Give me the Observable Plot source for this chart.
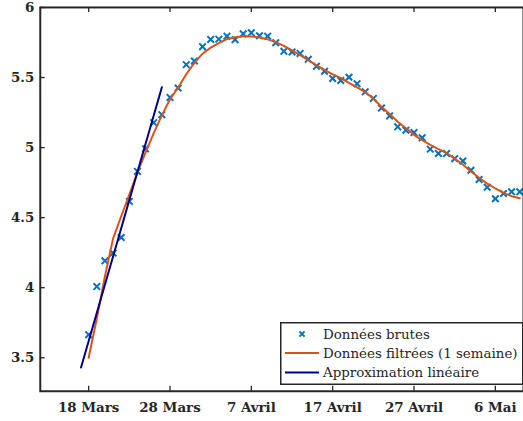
<!DOCTYPE html>
<html><head><meta charset="utf-8">
<script src="https://cdn.jsdelivr.net/npm/d3@7"></script>
<script src="https://cdn.jsdelivr.net/npm/@observablehq/plot@0.6"></script>
<style>
body{margin:0;background:#fff;}
#wrap{position:relative;width:523px;height:421px;overflow:hidden;background:#fff;}
#legend{position:absolute;left:0;top:0;font-family:"DejaVu Serif",serif;}
#legend text{font-family:"DejaVu Serif",serif;font-size:13.4px;}
#wrap svg text{font-family:"DejaVu Serif",serif;}
</style>
</head><body>
<div id="wrap"></div>
<script>
// Day index: 0 = 18 Mars
const rawDays = d3.range(0, 54);
const rawValues = [3.665,4.008,4.192,4.247,4.358,4.616,4.830,4.991,5.178,5.235,
  5.358,5.425,5.592,5.618,5.720,5.772,5.774,5.795,5.770,5.812,
  5.819,5.798,5.795,5.748,5.687,5.682,5.672,5.630,5.580,5.545,
  5.493,5.479,5.502,5.456,5.398,5.351,5.282,5.226,5.148,5.124,
  5.107,5.070,4.989,4.958,4.957,4.921,4.904,4.838,4.772,4.717,
  4.635,4.672,4.684,4.684];
const filteredValues = [3.50,3.78,4.08,4.35,4.51,4.665,4.823,4.965,5.103,5.23,
  5.345,5.429,5.523,5.604,5.670,5.713,5.745,5.774,5.788,5.795,
  5.793,5.785,5.772,5.753,5.726,5.694,5.660,5.624,5.587,5.554,
  5.523,5.495,5.462,5.430,5.396,5.348,5.291,5.240,5.185,5.138,
  5.091,5.053,5.020,4.989,4.961,4.920,4.880,4.830,4.784,4.743,
  4.708,4.677,4.653,4.639];
const linearDays = [-0.94, 9.0];
const linearValues = [3.43, 5.43];
const tickDays = [0, 10, 20, 30, 40, 50];
const tickLabels = ["18 Mars", "28 Mars", "7 Avril", "17 Avril", "27 Avril", "6 Mai"];
const yTicks = [3.5, 4, 4.5, 5, 5.5, 6];
const legendLabels = ["Données brutes", "Données filtrées (1 semaine)", "Approximation linéaire"];

const raw = rawDays.map((d, i) => ({day: d, v: rawValues[i]}));
const filtered = rawDays.map((d, i) => ({day: d, v: filteredValues[i]}));
const linear = linearDays.map((d, i) => ({day: d, v: linearValues[i]}));

const W = 526, H = 421, mL = 40, mR = 0, mT = 7, mB = 28;
const innerW = W - mL - mR, innerH = H - mT - mB;
const ink = "#262626";
const blue = "#0072BD", orange = "#D95319", navy = "#00008B";

const chart = Plot.plot({
  width: W, height: H,
  marginLeft: mL, marginRight: mR, marginTop: mT, marginBottom: mB,
  style: {fontFamily: "DejaVu Serif, serif", fontSize: "13.5px", fontWeight: "bold", color: ink, background: "transparent", overflow: "visible"},
  x: {domain: [-5.95, 53.46], label: null},
  y: {domain: [3.261, 6], label: null},
  marks: [
    Plot.dot(raw, {x: "day", y: "v", symbol: "times", r: 3.1, stroke: blue, strokeWidth: 2}),
    Plot.line(filtered, {x: "day", y: "v", stroke: orange, strokeWidth: 2}),
    Plot.line(linear, {x: "day", y: "v", stroke: navy, strokeWidth: 2}),
    Plot.ruleX(tickDays, {x: d => d, insetTop: innerH - 5, stroke: ink, strokeWidth: 1.3}),
    Plot.ruleX(tickDays, {x: d => d, insetBottom: innerH - 5, stroke: ink, strokeWidth: 1.3}),
    Plot.ruleY(yTicks, {y: d => d, insetRight: innerW - 5, stroke: ink, strokeWidth: 1.3}),
    Plot.frame({stroke: ink, strokeWidth: 2}),
    Plot.axisX(tickDays, {tickSize: 0, tickPadding: 11, tickFormat: d => tickLabels[tickDays.indexOf(d)], fill: ink, label: null}),
    Plot.axisY(yTicks, {tickSize: 0, tickPadding: 6, tickFormat: d => String(d), fill: ink, label: null})
  ]
});
const wrap = document.getElementById("wrap");
wrap.appendChild(chart);

// Legend (inside the axes, bottom right)
const ns = "http://www.w3.org/2000/svg";
const lg = document.createElementNS(ns, "svg");
lg.setAttribute("id", "legend");
lg.setAttribute("width", 523); lg.setAttribute("height", 421);
const L = 280.75, T = 322.75, LW = 242, LH = 61.5;
let html = `<rect x="${L}" y="${T}" width="${LW}" height="${LH}" fill="#fff" stroke="${ink}" stroke-width="1.5"/>`;
const rowsY = [334, 353, 372.5];
const styles = [
  {type: "x", color: blue},
  {type: "line", color: orange},
  {type: "line", color: navy}
];
styles.forEach((s, i) => {
  const y = rowsY[i];
  if (s.type === "x") {
    const cx = 302, k = 2.6;
    html += `<path d="M${cx-k},${y-k}L${cx+k},${y+k}M${cx+k},${y-k}L${cx-k},${y+k}" stroke="${s.color}" stroke-width="2"/>`;
  } else {
    html += `<line x1="285" x2="319" y1="${y}" y2="${y}" stroke="${s.color}" stroke-width="2"/>`;
  }
  html += `<text x="323" y="${y}" dy="0.35em" fill="${ink}">${legendLabels[i]}</text>`;
});
lg.innerHTML = html;
wrap.appendChild(lg);
</script>
</body></html>
